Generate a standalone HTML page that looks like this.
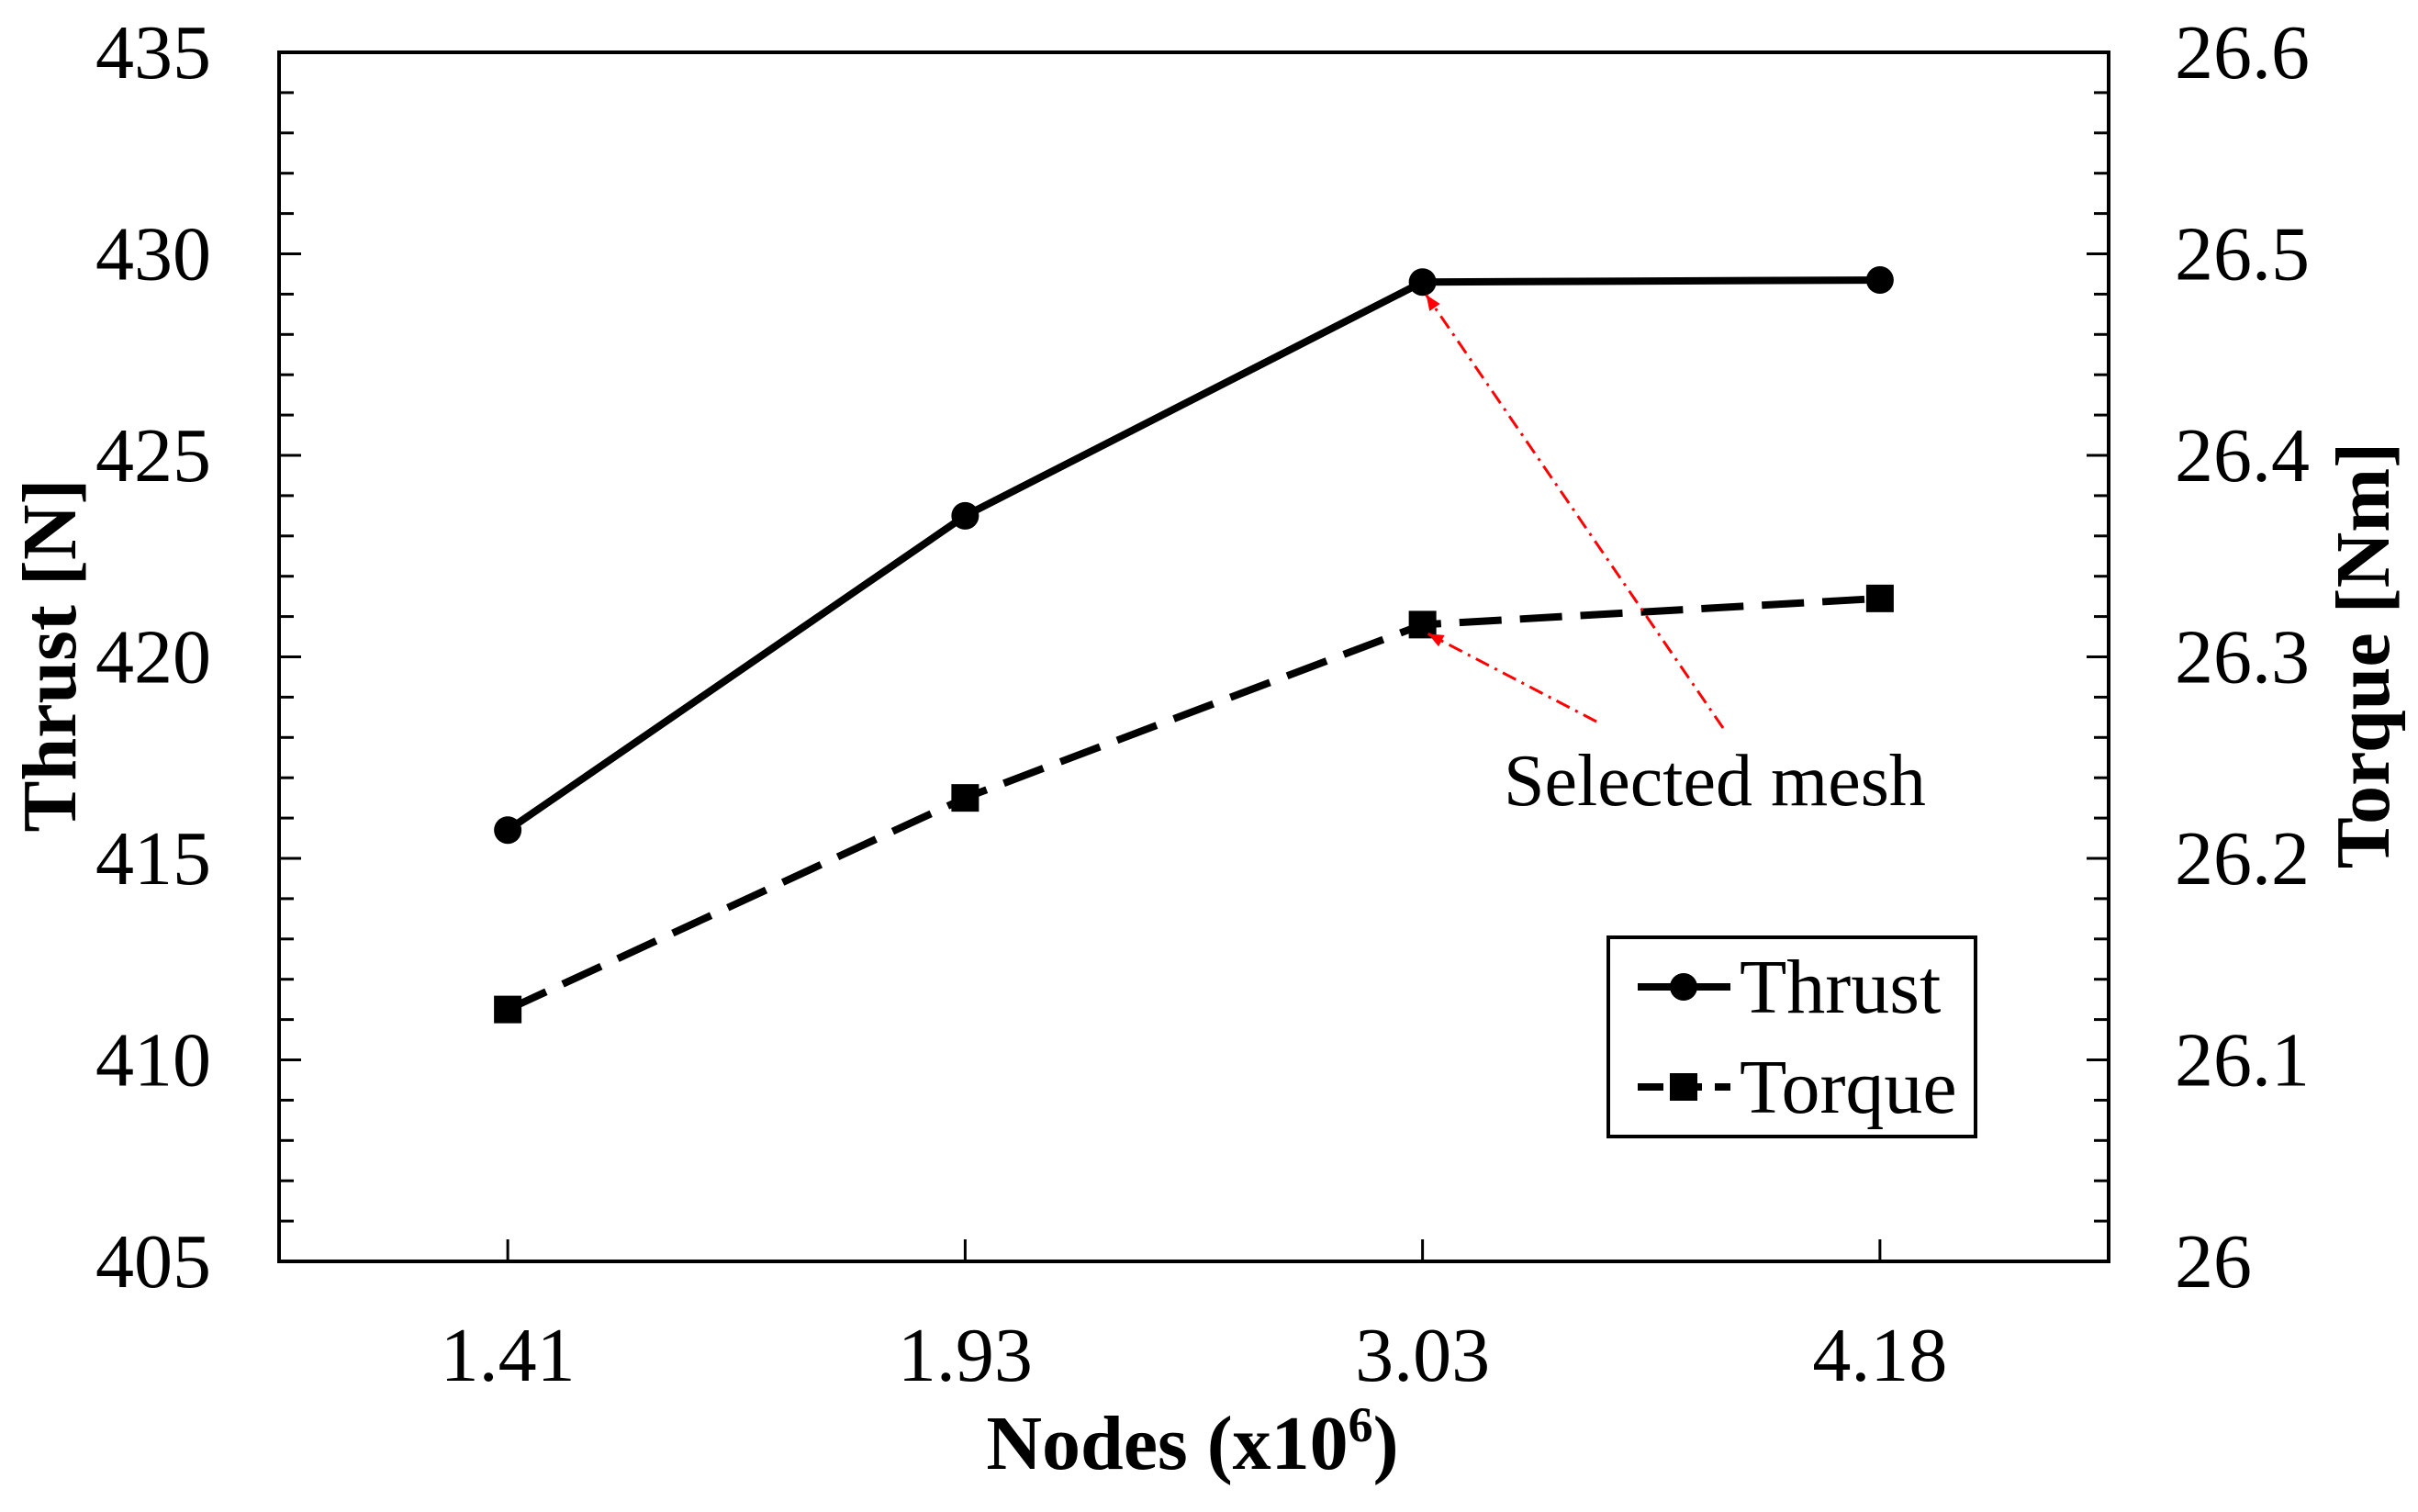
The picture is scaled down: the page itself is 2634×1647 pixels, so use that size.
<!DOCTYPE html>
<html><head><meta charset="utf-8"><style>
body{margin:0;background:#fff}
text{font-family:"Liberation Serif",serif;fill:#000}
</style></head><body>
<svg id="chart" width="2634" height="1642" xmlns="http://www.w3.org/2000/svg">
</svg>
<script>
const categories=["1.41","1.93","3.03","4.18"];
const thrust=[415.7,423.5,429.3,429.35];
const torque=[26.125,26.23,26.316,26.329];
const leftTicks=[405,410,415,420,425,430,435];
const rightTicks=["26","26.1","26.2","26.3","26.4","26.5","26.6"];
const L=304,R=2297,T=57,B=1374;
const svg=document.getElementById('chart');
const NS='http://www.w3.org/2000/svg';
function mk(tag,attrs,parent){const e=document.createElementNS(NS,tag);for(const k in attrs)e.setAttribute(k,attrs[k]);(parent||svg).appendChild(e);return e;}
const xS=i=>L+(i+0.5)*(R-L)/categories.length;
const yL=v=>B-(v-405)/30*(B-T);
const yR=v=>B-(v-26)/0.6*(B-T);
for(let v=405;v<=435;v++){const y=yL(v);const len=(v%5===0)?24:16;
 let t=mk('line',{x1:L,x2:L+len,y1:y,y2:y,stroke:'#000','stroke-width':3});
 
 let t2=mk('line',{x1:R,x2:R-len,y1:y,y2:y,stroke:'#000','stroke-width':3});
 }
leftTicks.forEach(v=>{const e=mk('text',{x:230,y:yL(v)+28,'font-size':84,'text-anchor':'end'});e.textContent=v;
 });
rightTicks.forEach((s,i)=>{const e=mk('text',{x:2369,y:yL(405+i*5)+28,'font-size':84});e.textContent=s;
 });
categories.forEach((c,i)=>{const x=xS(i);
 const t=mk('line',{x1:x,x2:x,y1:B,y2:B-24,stroke:'#000','stroke-width':3});
 
 const e=mk('text',{x:x,y:1504,'font-size':84,'text-anchor':'middle'});e.textContent=c;
 });
const frame=mk('rect',{x:L,y:T,width:R-L,height:B-T,fill:'none',stroke:'#000','stroke-width':4});

const tl=mk('polyline',{points:thrust.map((v,i)=>xS(i)+','+yL(v)).join(' '),fill:'none',stroke:'#000','stroke-width':8});

thrust.forEach((v,i)=>{const c=mk('circle',{cx:xS(i),cy:yL(v),r:15,fill:'#000'});
 });
const ql=mk('polyline',{points:torque.map((v,i)=>xS(i)+','+yR(v)).join(' '),fill:'none',stroke:'#000','stroke-width':8,'stroke-dasharray':'46 20'});

torque.forEach((v,i)=>{const c=mk('rect',{x:xS(i)-15,y:yR(v)-15,width:30,height:30,fill:'#000'});
 });
const a1=mk('line',{x1:1877,y1:793,x2:xS(2)+4,y2:yL(thrust[2])+14,stroke:'#f00','stroke-width':3,'stroke-dasharray':'16 7 3 7'});

const a2=mk('line',{x1:1739,y1:786,x2:xS(2)+6,y2:yR(torque[2])+10,stroke:'#f00','stroke-width':3,'stroke-dasharray':'16 7 3 7'});

[a1,a2].forEach(a=>{const x1=+a.getAttribute('x1'),y1=+a.getAttribute('y1'),x2=+a.getAttribute('x2'),y2=+a.getAttribute('y2');
 const ang=Math.atan2(y2-y1,x2-x1),s=18;
 const h=mk('polygon',{points:`${x2},${y2} ${x2-s*Math.cos(ang-0.4)},${y2-s*Math.sin(ang-0.4)} ${x2-s*Math.cos(ang+0.4)},${y2-s*Math.sin(ang+0.4)}`,fill:'#f00'});
 });
</script>
<svg style="position:absolute;left:0;top:0" width="2634" height="1642" xmlns="http://www.w3.org/2000/svg">
<text x="1638" y="877" font-size="80">Selected mesh</text>
<text x="1299" y="1600" font-size="84" font-weight="bold" text-anchor="middle">Nodes (x10<tspan dy="-30" font-size="54">6</tspan><tspan dy="30">)</tspan></text>
<text transform="translate(82,714) rotate(-90)" font-size="84" font-weight="bold" text-anchor="middle">Thrust [N]</text>
<text transform="translate(2602,714) rotate(-90)" font-size="84" font-weight="bold" text-anchor="middle">Torque [Nm]</text>
<g>
<rect x="1752" y="1021" width="400" height="217" fill="#fff" stroke="#000" stroke-width="4"/>
<line x1="1784" y1="1075" x2="1885" y2="1075" stroke="#000" stroke-width="8"/>
<circle cx="1834" cy="1075" r="15" fill="#000"/>
<text x="1895" y="1103" font-size="84">Thrust</text>
<line x1="1784" y1="1184" x2="1885" y2="1184" stroke="#000" stroke-width="8" stroke-dasharray="28 14"/>
<rect x="1819" y="1169" width="30" height="30" fill="#000"/>
<text x="1895" y="1212" font-size="84">Torque</text>
</g>
</svg>
</body></html>
